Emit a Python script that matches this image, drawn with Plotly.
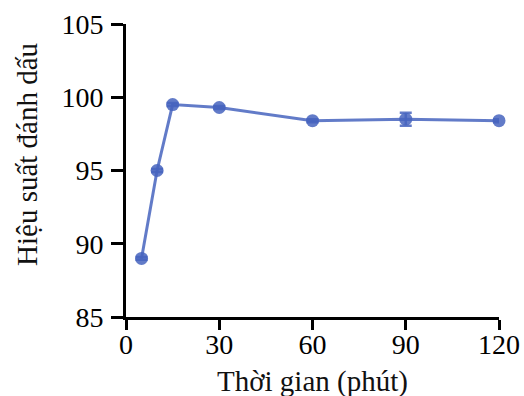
import plotly.graph_objects as go

time_min = [5, 10, 15, 30, 60, 90, 120]
efficiency = [89.0, 95.0, 99.5, 99.3, 98.4, 98.5, 98.4]
error = [0.1, 0.1, 0.1, 0.1, 0.1, 0.45, 0.1]
x_ticks = [0, 30, 60, 90, 120]
y_ticks = [85, 90, 95, 100, 105]
x_title = "Thời gian (phút)"
y_title = "Hiệu suất đánh dấu"

color = "rgba(70,100,190,0.85)"
fam = "Liberation Serif"
tick_font = dict(family=fam, size=28, color="black")
title_font = dict(family=fam, size=29, color="#111111")

fig = go.Figure(go.Scatter(
    x=time_min, y=efficiency,
    mode="lines+markers",
    line=dict(color=color, width=3),
    marker=dict(color=color, size=13, symbol="circle"),
    error_y=dict(type="data", array=error, color=color, thickness=2.5, width=6),
    cliponaxis=False,
))
# invisible helper trace so the tick-label axis is drawn
fig.add_trace(go.Scatter(x=[x_ticks[0], x_ticks[-1]], y=[None, None],
                         xaxis="x2", yaxis="y", hoverinfo="skip",
                         showlegend=False, mode="markers"))

fig.update_layout(
    width=524, height=396,
    margin=dict(l=126, r=25, t=24, b=79, autoexpand=False),
    paper_bgcolor="white", plot_bgcolor="white",
    showlegend=False,
    font=dict(family=fam, size=28, color="black"),
    xaxis=dict(
        range=[0, 120], tickvals=x_ticks, showticklabels=False,
        showline=True, linecolor="black", linewidth=3,
        ticks="outside", ticklen=10, tickwidth=3, tickcolor="black",
        showgrid=False, zeroline=False, automargin=False,
    ),
    xaxis2=dict(
        overlaying="x", side="bottom", matches="x", range=[0, 120],
        tickvals=x_ticks, ticktext=[str(v) for v in x_ticks],
        ticks="", showline=False, showgrid=False, zeroline=False,
        automargin=False, tickfont=tick_font, ticklabelstandoff=8,
    ),
    yaxis=dict(
        range=[85, 105], tickvals=y_ticks, ticktext=[str(v) for v in y_ticks],
        showline=True, linecolor="black", linewidth=3,
        ticks="outside", ticklen=12, tickwidth=3, tickcolor="black",
        showgrid=False, zeroline=False, automargin=False,
        tickfont=tick_font, ticklabelstandoff=2,
    ),
    annotations=[
        dict(text=x_title, xref="paper", yref="paper", x=0.5, y=0,
             xanchor="center", yanchor="top", yshift=-46,
             showarrow=False, font=title_font),
        dict(text=y_title, xref="paper", yref="paper", x=0, y=0.553,
             xanchor="center", yanchor="middle", xshift=-99, textangle=-90,
             showarrow=False, font=title_font),
    ],
)
fig.write_html("out.html", config={"displayModeBar": False},
               post_script="document.body.style.margin='0';")
